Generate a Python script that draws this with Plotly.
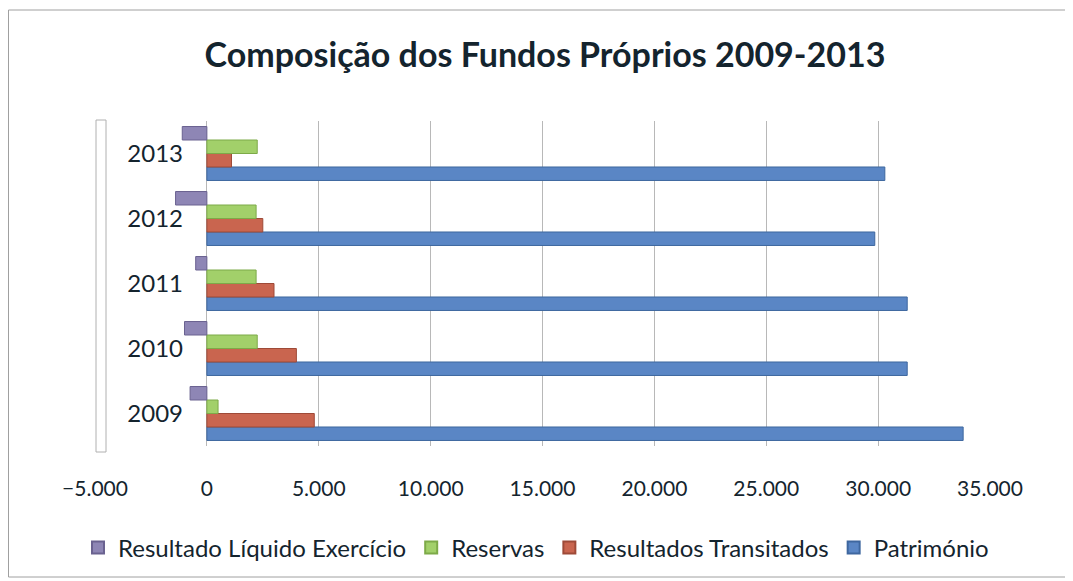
import plotly.graph_objects as go

years = ["2009", "2010", "2011", "2012", "2013"]
patrimonio = [33800, 31300, 31300, 29850, 30300]
resultados_transitados = [4800, 4000, 3000, 2500, 1100]
reservas = [500, 2250, 2200, 2200, 2250]
resultado_liquido = [-750, -1000, -500, -1400, -1100]

series = [
    ("Património", patrimonio, "#5A86C5", "#3E679F"),
    ("Resultados Transitados", resultados_transitados, "#C9654F", "#9E4A38"),
    ("Reservas", reservas, "#A2D06A", "#7DAA48"),
    ("Resultado Líquido Exercício", resultado_liquido, "#8E86B5", "#6A6290"),
]

FONT = "Lato"
TXT = "#14242e"

fig = go.Figure()
for name, vals, col, edge in series:
    fig.add_trace(go.Bar(
        y=years, x=vals, name=name, orientation="h",
        marker=dict(color=col, line=dict(color=edge, width=1)),
    ))

OFF = 8  # page body margin
W, H = 1073 - OFF, 581 - OFF
L, T = 95 - OFF, 121 - OFF
R = W - (990 - OFF)
B = H - (446 - OFF)
pw, ph = W - L - R, H - T - B

def px_x(p):  # p: reference screen px
    return (p - OFF - L) / pw

def px_y(p):
    return (H - B - (p - OFF)) / ph

fig.update_layout(
    width=W, height=H,
    margin=dict(l=L, r=R, t=T, b=B, autoexpand=False),
    paper_bgcolor="white", plot_bgcolor="white",
    separators=",.",
    barmode="group", bargap=0.17, bargroupgap=0.0,
    title=dict(text="<b>Composição dos Fundos Próprios 2009-2013</b>",
               x=(545 - OFF) / W, xanchor="center", y=1 - (55 - OFF) / H, yanchor="middle",
               font=dict(family=FONT, size=34, color=TXT)),
    xaxis=dict(range=[-5000, 35000], tickvals=list(range(-5000, 35001, 5000)),
               tickformat=",d", showgrid=True, gridcolor="#b8b8b8", gridwidth=1,
               zeroline=True, zerolinecolor="#b8b8b8", zerolinewidth=1,
               showline=False, ticks="", ticklabelstandoff=28,
               tickfont=dict(family=FONT, size=21, color=TXT)),
    yaxis=dict(anchor="free", position=px_x(183), showgrid=False, showline=False,
               ticks="", tickfont=dict(family=FONT, size=24, color=TXT)),
    legend=dict(orientation="h", traceorder="reversed",
                x=px_x(78), xanchor="left",
                y=px_y(548), yanchor="middle",
                font=dict(family=FONT, size=24, color=TXT),
                itemwidth=30, itemsizing="constant"),
    showlegend=True,
)

# outer chart border
fig.add_shape(type="rect", xref="paper", yref="paper",
              x0=px_x(8.5), x1=px_x(1068), y0=px_y(577), y1=px_y(10),
              line=dict(color="#a0a0a0", width=1), fillcolor="rgba(0,0,0,0)", layer="below")
# left wall of the 3D chart
fig.add_shape(type="rect", xref="paper", yref="paper",
              x0=px_x(96), x1=px_x(106), y0=px_y(452), y1=px_y(120),
              line=dict(color="#b0b0b0", width=1), fillcolor="rgba(0,0,0,0)", layer="below")

fig.write_html("out.html")
